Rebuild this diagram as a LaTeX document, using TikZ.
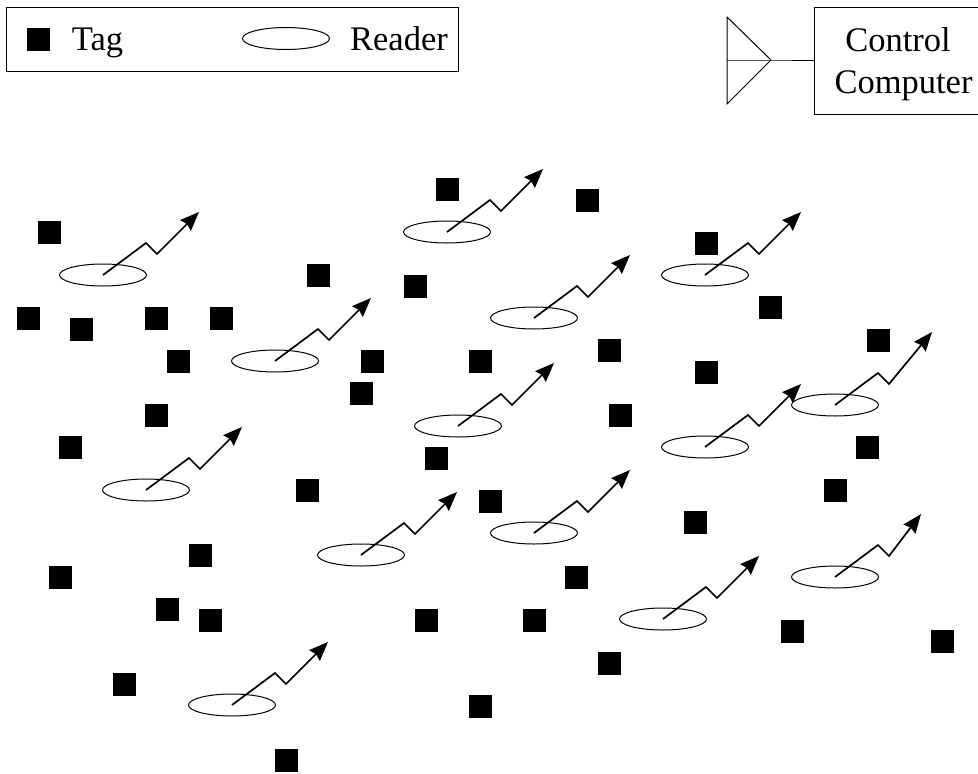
\documentclass[tikz,border=0pt]{standalone}
\usepackage{fontspec}
\setmainfont{Liberation Serif}
\usetikzlibrary{arrows.meta,shapes.geometric}

\begin{document}
\begin{tikzpicture}[
                x=1pt,y=-1pt,
                tag/.style={rectangle,fill=black,minimum size=23pt,inner sep=0pt},
                reader/.style={ellipse,draw,line width=1pt,minimum width=87pt,minimum height=22pt,inner sep=0pt},
                label text/.style={font=\fontsize{34.5}{36}\selectfont,inner sep=0pt,anchor=base},
                box/.style={rectangle,draw,line width=1pt,inner sep=0pt},
                signal/.style={line width=1.7pt,-{Stealth[length=19pt,width=15pt,inset=2pt]}}
            ]
                \useasboundingbox (0,0) rectangle (978,774);
                % legend
                \node (legend) [box,minimum width=452pt,minimum height=64pt] at (232,39) {};
                \node (legendtag) [tag] at (38.5,39.5) {};
                \node (tagtext) [label text] at (97.5,50) {Tag};
                \node (legendreader) [reader] at (286,38.5) {};
                \node (readertext) [label text] at (399,50) {Reader};
                % control computer
                \node (computer) [box,minimum width=164pt,minimum height=107pt] at (896,60.5) {};
                \node (controltext) [label text] at (898,51) {Control};
                \node (computertext) [label text] at (903.5,93) {Computer};
                \coordinate (antbase) at (727,60);
                \coordinate (anttop) at (727,17);
                \coordinate (antbot) at (727,104);
                \coordinate (anttip) at (771,60);
                \draw[line width=1pt] (anttop) -- (anttip) -- (antbot) -- cycle;
                \draw[line width=1pt] (antbase) -- (anttip) -- (computer.west |- anttip);
                % tags
                \foreach \x/\y [count=\i] in {49/232,447/189,587/200,706/243,318/275,415/286,770/307,
                        28/318,81/329,156/318,221/318,178/361,372/361,480/361,609/350,878/340,706/372,
                        361/393,156/415,620/415,70/447,436/458,867/447,307/490,490/501,835/490,695/522,
                        200/555,60/577,576/577,167/609,210/620,426/620,534/620,792/631,942/641,609/663,
                        124/684,480/706,286/760}
                    \node (tag\i) [tag] at (\x,\y) {};
                % readers, with the last leg of each signal
                \foreach \x/\y/\dx/\dy [count=\i] in {103/275/42/-42,447/232/42/-42,705/275/42/-42,
                        534/318/42/-42,275/361/42/-42,835/405/43/-52,458/426/42/-42,705/447/42/-42,
                        146/490/42/-42,534/533/42/-42,361/555/42/-42,835/577/32/-42,663/619/42/-42,
                        232/705/42/-42}
                {
                    \node (reader\i) [reader] at (\x,\y) {};
                    \draw[signal] (reader\i.center) -- ++(43,-32) -- ++(11,11) -- ++(\dx,\dy);
                }
            \end{tikzpicture}
\end{document}
